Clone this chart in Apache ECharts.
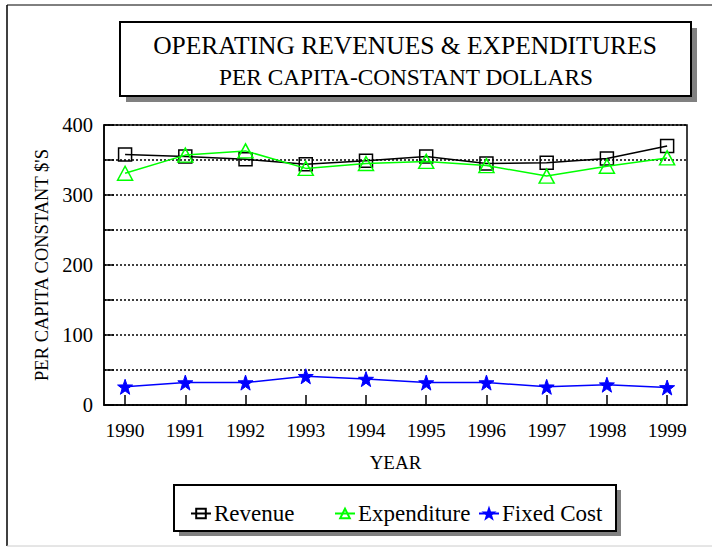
<!DOCTYPE html>
<html>
<head>
<meta charset="utf-8">
<script src="https://cdn.jsdelivr.net/npm/echarts@6/dist/echarts.min.js"></script>
<style>
  html, body { margin: 0; padding: 0; background: #fff; }
</style>
</head>
<body>
<div id="main" style="width: 712px;height:547px;"></div>
<script type="text/javascript">
    // data
    var years = [1990, 1991, 1992, 1993, 1994, 1995, 1996, 1997, 1998, 1999];
    var revenue = [358, 355, 351, 344, 349, 355, 345, 346, 352, 370];
    var expenditure = [331, 357, 363, 338, 345, 348, 342, 327, 341, 353];
    var fixedCost = [26, 32, 32, 41, 37, 32, 32, 26, 29, 25];
    var yTicks = [0, 100, 200, 300, 400];

    var serif = '"Liberation Serif", "Times New Roman", serif';
    var star = 'path://M0,-10 L2.35,-3.24 L9.51,-3.09 L3.8,1.24 L5.88,8.09 L0,4 L-5.88,8.09 L-3.8,1.24 L-9.51,-3.09 L-2.35,-3.24 Z';

    function pairs(vals) {
        return years.map(function (y, i) { return [y, vals[i]]; });
    }

    var myChart = echarts.init(document.getElementById('main'), null, { renderer: 'svg' });

    var legendBase = {
        top: 497,
        itemWidth: 20,
        itemHeight: 12,
        itemGap: 0,
        textStyle: { fontFamily: serif, fontSize: 23, color: '#000', padding: [0, 0, 0, -2] },
        selectedMode: false
    };

    var option = {
        backgroundColor: '#fff',
        animation: false,
        graphic: [
            // outer frame
            { type: 'line', shape: { x1: 7, y1: 5, x2: 712, y2: 5 }, style: { stroke: '#000', lineWidth: 1 } },
            { type: 'line', shape: { x1: 7, y1: 5, x2: 7, y2: 546 }, style: { stroke: '#000', lineWidth: 1.5 } },
            { type: 'line', shape: { x1: 7, y1: 546, x2: 712, y2: 546 }, style: { stroke: '#ccc', lineWidth: 1 } },
            // title box + shadow
            { type: 'rect', z: -2, shape: { x: 126, y: 28, width: 571, height: 74 }, style: { fill: '#808080' } },
            { type: 'rect', z: -1, shape: { x: 120, y: 22, width: 571, height: 74 }, style: { fill: '#fff', stroke: '#000', lineWidth: 2 } },
            { type: 'text', z: 5, style: { x: 405, y: 45, text: 'OPERATING REVENUES & EXPENDITURES', font: '25.5px ' + serif, fill: '#000', textAlign: 'center', textVerticalAlign: 'middle' } },
            { type: 'text', z: 5, style: { x: 406, y: 77, text: 'PER CAPITA-CONSTANT DOLLARS', font: '23.3px ' + serif, fill: '#000', textAlign: 'center', textVerticalAlign: 'middle' } },
            // legend box + shadow
            { type: 'rect', z: -2, shape: { x: 179, y: 490, width: 442, height: 46 }, style: { fill: '#808080' } },
            { type: 'rect', z: -1, shape: { x: 174, y: 485, width: 442, height: 46 }, style: { fill: '#fff', stroke: '#000', lineWidth: 2 } }
        ],
        legend: [
            Object.assign({}, legendBase, { left: 185, data: ['Revenue'] }),
            Object.assign({}, legendBase, { left: 329, data: ['Expenditure'] }),
            Object.assign({}, legendBase, { left: 473, data: ['Fixed Cost'] })
        ],
        grid: {
            left: 104, right: 25, top: 125, bottom: 142,
            show: true, borderColor: '#000', borderWidth: 1.5, backgroundColor: 'transparent'
        },
        xAxis: {
            type: 'value',
            min: 1989.65,
            max: 1999.33,
            splitNumber: 10,
            minInterval: 1,
            maxInterval: 1,
            name: 'YEAR',
            nameLocation: 'middle',
            nameGap: 48,
            nameTextStyle: { fontFamily: serif, fontSize: 19, color: '#000' },
            axisLine: { lineStyle: { color: '#000', width: 1.5 } },
            axisTick: { inside: true, length: 10, lineStyle: { color: '#000', width: 1.5 } },
            axisLabel: {
                fontFamily: serif, fontSize: 19.5, color: '#000', margin: 15,
                showMinLabel: false, showMaxLabel: false,
                formatter: function (v) { return years.indexOf(v) >= 0 ? String(v) : ''; }
            },
            splitLine: { show: false }
        },
        yAxis: {
            type: 'value',
            min: 0,
            max: 400,
            interval: 50,
            name: "PER CAPITA CONSTANT $'S",
            nameLocation: 'middle',
            nameRotate: 90,
            nameGap: 47,
            nameTextStyle: { fontFamily: serif, fontSize: 18.5, color: '#000' },
            axisLine: { show: true, lineStyle: { color: '#000', width: 1.5 } },
            axisTick: { show: true, inside: true, length: 10, lineStyle: { color: '#000', width: 1.5 } },
            axisLabel: {
                fontFamily: serif, fontSize: 20.5, color: '#000', margin: 11,
                formatter: function (v) { return yTicks.indexOf(v) >= 0 ? String(v) : ''; }
            },
            splitLine: { show: true, lineStyle: { color: '#000', type: [2, 2], width: 1.5 } }
        },
        series: [
            {
                name: 'Revenue',
                type: 'line',
                data: pairs(revenue),
                symbol: 'rect',
                symbolSize: 13,
                lineStyle: { color: '#000', width: 1.5 },
                itemStyle: { color: 'rgba(255,255,255,0)', borderColor: '#000', borderWidth: 1.5 },
                z: 3
            },
            {
                name: 'Expenditure',
                type: 'line',
                data: pairs(expenditure),
                symbol: 'triangle',
                symbolSize: [15, 14],
                lineStyle: { color: '#00ff00', width: 1.5 },
                itemStyle: { color: 'rgba(255,255,255,0)', borderColor: '#00ff00', borderWidth: 1.5 },
                z: 4
            },
            {
                name: 'Fixed Cost',
                type: 'line',
                data: pairs(fixedCost),
                symbol: star,
                symbolSize: 15,
                lineStyle: { color: '#0000ff', width: 1.5 },
                itemStyle: { color: '#0000ff', borderColor: '#0000ff', borderWidth: 1 },
                z: 5
            }
        ]
    };
    myChart.setOption(option);
</script>
</body>
</html>
